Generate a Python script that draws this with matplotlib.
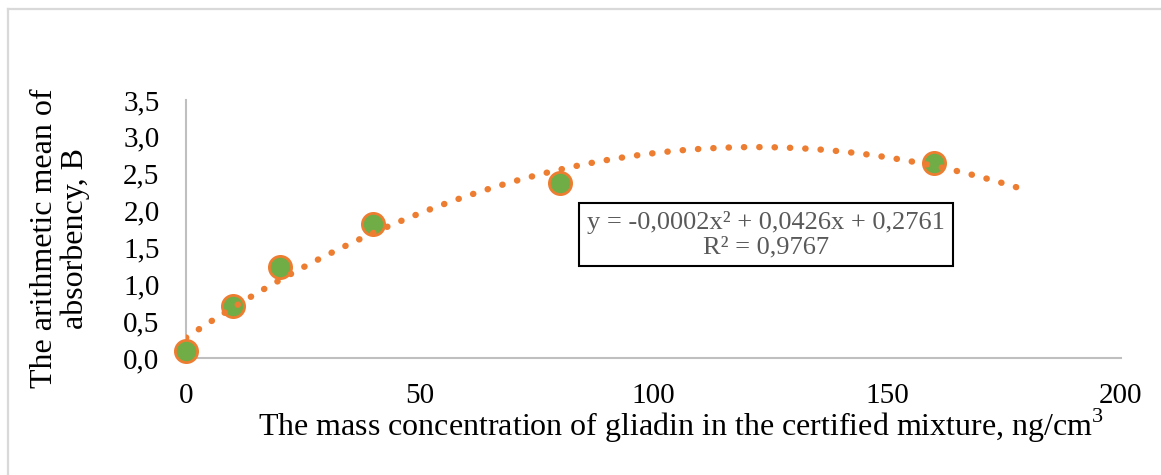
import matplotlib.pyplot as plt
from matplotlib.lines import Line2D
import numpy as np

plt.rcParams['font.family'] = ['Liberation Serif', 'DejaVu Serif']
plt.rcParams['mathtext.fontset'] = 'custom'
plt.rcParams['mathtext.rm'] = 'Liberation Serif'

# data
concentration = [0, 10, 20, 40, 80, 160]
absorbency = [0.09, 0.71, 1.23, 1.82, 2.38, 2.64]
x_ticks = [0, 50, 100, 150, 200]
y_ticks = [0.0, 0.5, 1.0, 1.5, 2.0, 2.5, 3.0, 3.5]
equation_text = 'y = -0,0002x² + 0,0426x + 0,2761\nR² = 0,9767'

W, H = 1161, 475
fig = plt.figure(figsize=(W / 100, H / 100), dpi=100)
# chart area border (only top and left edges are visible in the crop)
fig.lines.append(Line2D([7.5 / W, 1], [1 - 8.5 / H, 1 - 8.5 / H], transform=fig.transFigure,
                        color='#d9d9d9', linewidth=1.6))
fig.lines.append(Line2D([7.5 / W, 7.5 / W], [0, 1 - 8.5 / H], transform=fig.transFigure,
                        color='#d9d9d9', linewidth=1.6))

ax = fig.add_axes([186 / W, 1 - 358 / H, (1121 - 186) / W, (358 - 100) / H])

ax.plot(concentration, absorbency, 'o', markersize=16, markerfacecolor='#70ad47',
        markeredgecolor='#ed7d31', markeredgewidth=2, zorder=3, clip_on=False)

# polynomial trendline (order 2), forecast forward 20
coef = np.polyfit(concentration, absorbency, 2)
xt = np.linspace(0, 180, 400)
ax.plot(xt, np.polyval(coef, xt), color='#ed7d31', linewidth=4.6,
        linestyle=(0, (0.05, 2.35)), dash_capstyle='round', zorder=4)

ax.set_xlim(0, 200)
ax.set_ylim(0, 3.5)
ax.set_xticks(x_ticks)
ax.set_yticks(y_ticks)
ax.set_yticklabels([f'{v:.1f}'.replace('.', ',') for v in y_ticks])
ax.tick_params(length=0, labelsize=21)
ax.tick_params(axis='y', pad=19)
ax.tick_params(axis='x', pad=18)
for s in ['top', 'right']:
    ax.spines[s].set_visible(False)
for s in ['left', 'bottom']:
    ax.spines[s].set_color('#bfbfbf')
    ax.spines[s].set_linewidth(1.5)

ax.set_xlabel('The mass concentration of gliadin in the certified mixture, ng/cm$^3$', fontsize=23)
ax.xaxis.set_label_coords(0.529, -0.19)
ax.set_ylabel('The arithmetic mean of\nabsorbency, B', fontsize=23, linespacing=1.05)
ax.yaxis.set_label_coords(-0.103, 0.465)

ax.text(0.620, 0.477, equation_text, transform=ax.transAxes, fontsize=19, color='#595959',
        ha='center', va='center', linespacing=1.12,
        bbox=dict(boxstyle='square,pad=0.3', facecolor='white', edgecolor='black', linewidth=1.5))

fig.savefig('out.png', dpi=100)
